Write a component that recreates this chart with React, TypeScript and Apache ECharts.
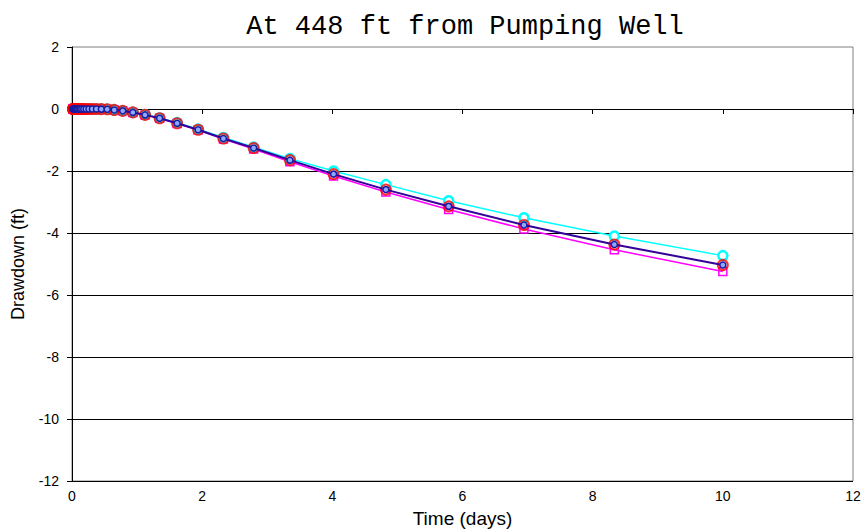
import React, { useEffect, useRef } from "react";
import * as echarts from "echarts";

const timeDays = [0.014, 0.017, 0.02, 0.024, 0.029, 0.035, 0.042, 0.051, 0.061, 0.073, 0.087, 0.105, 0.126, 0.151, 0.181, 0.217, 0.261, 0.313, 0.376, 0.451, 0.541, 0.649, 0.779, 0.935, 1.122, 1.346, 1.615, 1.938, 2.326, 2.791, 3.349, 4.019, 4.823, 5.787, 6.944, 8.333, 10];

const observed = [0, 0, 0, 0, 0, 0, 0, 0, 0, 0, 0, 0, 0, 0, 0, 0, 0, 0, 0, -0.005, -0.01, -0.03, -0.06, -0.11, -0.19, -0.3, -0.46, -0.67, -0.95, -1.26, -1.65, -2.1, -2.6, -3.14, -3.74, -4.37, -5.03];
const modelA = [0, 0, 0, 0, 0, 0, 0, 0, 0, 0, 0, 0, 0, 0, 0, 0, 0, 0, 0, -0.005, -0.01, -0.03, -0.06, -0.11, -0.19, -0.3, -0.46, -0.67, -0.95, -1.26, -1.65, -2.1, -2.6, -3.14, -3.74, -4.37, -5.03];
const modelB = [0, 0, 0, 0, 0, 0, 0, 0, 0, 0, 0, 0, 0, 0, 0, 0, 0, 0, 0, -0.005, -0.01, -0.03, -0.06, -0.11, -0.18, -0.29, -0.44, -0.65, -0.92, -1.23, -1.6, -2.0, -2.44, -2.96, -3.51, -4.1, -4.73];
const modelC = [0, 0, 0, 0, 0, 0, 0, 0, 0, 0, 0, 0, 0, 0, 0, 0, 0, 0, 0, -0.005, -0.01, -0.03, -0.06, -0.11, -0.19, -0.3, -0.47, -0.68, -0.97, -1.29, -1.7, -2.16, -2.68, -3.24, -3.87, -4.54, -5.24];

const xTicks = { min: 0, max: 12, interval: 2 };
const yTicks = { min: -12, max: 2, interval: 2 };

const pairs = (ys: number[]) => timeDays.map((t, i) => [t, ys[i]]);

export default function App() {
  const ref = useRef<HTMLDivElement>(null);
  useEffect(() => {
    if (!ref.current) return;
    const chart = echarts.init(ref.current, null, { renderer: "svg" });
    const sans = "Liberation Sans, Arial, sans-serif";
    chart.setOption({
      animation: false,
      backgroundColor: "#fff",
      title: {
        text: "At 448 ft from Pumping Well",
        left: 460,
        textAlign: "center",
        top: 8,
        textStyle: {
          fontFamily: "Liberation Mono, Courier New, monospace",
          fontSize: 27,
          fontWeight: "normal",
          color: "#000",
        },
      },
      grid: {
        left: 72,
        right: 14,
        top: 47,
        bottom: 48,
        outerBoundsMode: "none",
        containLabel: false,
        show: true,
        borderColor: "#808080",
        borderWidth: 1,
        backgroundColor: "#fff",
      },
      xAxis: {
        type: "value",
        ...xTicks,
        name: "Time (days)",
        nameLocation: "middle",
        nameGap: 28,
        nameTextStyle: { fontFamily: sans, fontSize: 19, color: "#000" },
        axisLine: { lineStyle: { color: "#000", width: 1 } },
        axisTick: { show: true, length: 5, lineStyle: { color: "#000" } },
        axisLabel: { fontFamily: sans, fontSize: 14, color: "#000", margin: 8 },
        splitLine: { show: false },
      },
      yAxis: {
        type: "value",
        ...yTicks,
        name: "Drawdown (ft)",
        nameLocation: "middle",
        nameGap: 45,
        nameRotate: 90,
        nameTextStyle: { fontFamily: sans, fontSize: 18, color: "#000" },
        axisLine: { show: true, lineStyle: { color: "#000", width: 1 } },
        axisTick: { show: true, length: 5, lineStyle: { color: "#000" } },
        axisLabel: { fontFamily: sans, fontSize: 14, color: "#000", margin: 13 },
        splitLine: { show: true, showMaxLine: false, lineStyle: { color: "#000", width: 1 } },
      },
      series: [
        {
          type: "line",
          data: pairs(modelC),
          symbol: "rect",
          symbolSize: 8,
          showAllSymbol: true,
          lineStyle: { color: "#ff00ff", width: 1.5 },
          itemStyle: { color: "rgba(255,255,255,0)", borderColor: "#ff00ff", borderWidth: 1.5 },
          z: 2,
        },
        {
          type: "line",
          data: pairs(modelB),
          symbol: "circle",
          symbolSize: 9,
          showAllSymbol: true,
          lineStyle: { color: "#00ffff", width: 1.5 },
          itemStyle: { color: "#ffffff", borderColor: "#00ffff", borderWidth: 2.5 },
          z: 3,
        },
        {
          type: "scatter",
          data: pairs(observed),
          symbol: "circle",
          symbolSize: 10,
          itemStyle: { color: "rgba(255,255,255,0)", borderColor: "#ff0000", borderWidth: 2 },
          z: 4,
        },
        {
          type: "line",
          data: pairs(modelA),
          symbol: "circle",
          symbolSize: 6,
          showAllSymbol: true,
          lineStyle: { color: "#330099", width: 2 },
          itemStyle: { color: "#8fa8ff", borderColor: "#1a1aa0", borderWidth: 1.5 },
          z: 5,
        },
      ],
    });
    return () => chart.dispose();
  }, []);
  return <div ref={ref} style={{ width: 867, height: 529, position: "absolute", left: 0, top: 0 }} />;
}
